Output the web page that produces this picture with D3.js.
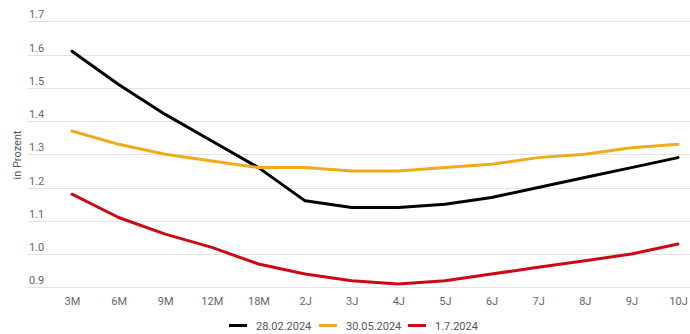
<!DOCTYPE html>
<html>
<head>
<meta charset="utf-8">
<script src="https://cdn.jsdelivr.net/npm/d3@7/dist/d3.min.js"></script>
<style>
  html, body { margin: 0; padding: 0; background: #fff; }
  svg { display: block; font-family: Roboto, "Noto Sans", sans-serif; }
</style>
</head>
<body>
<svg id="chart" width="690" height="334"></svg>
<script>
// Laufzeiten (Kategorien)
const categories = ["3M","6M","9M","12M","18M","2J","3J","4J","5J","6J","7J","8J","9J","10J"];
// Renditen in Prozent je Stichtag
const series1 = [1.61,1.51,1.42,1.34,1.26,1.16,1.14,1.14,1.15,1.17,1.20,1.23,1.26,1.29];
const series2 = [1.37,1.33,1.30,1.28,1.26,1.26,1.25,1.25,1.26,1.27,1.29,1.30,1.32,1.33];
const series3 = [1.18,1.11,1.06,1.02,0.97,0.94,0.92,0.91,0.92,0.94,0.96,0.98,1.00,1.03];
const seriesNames = ["28.02.2024","30.05.2024","1.7.2024"];
const yTicks = [0.9,1.0,1.1,1.2,1.3,1.4,1.5,1.6,1.7];

const colors = ["#000000","#f0ab1a","#cc0a16"];
const seriesData = [series1, series2, series3];

const svg = d3.select("#chart");
const left = 28, right = 690;

const x = d3.scalePoint().domain(categories).range([72, 678]);
const y = d3.scaleLinear().domain([0.9, 1.7]).range([287.3, 21.3]);

// Gitterlinien und Y-Beschriftung
const yAxis = svg.append("g").attr("class", "y-axis");
yTicks.forEach(t => {
  yAxis.append("line")
    .attr("x1", left).attr("x2", right)
    .attr("y1", Math.round(y(t)) + 0.5).attr("y2", Math.round(y(t)) + 0.5)
    .attr("stroke", "#e3e3e3").attr("stroke-width", 1);
  yAxis.append("text")
    .attr("x", left + 1).attr("y", y(t) - 3)
    .attr("fill", "#666").attr("font-size", 11)
    .text(t.toFixed(1));
});

svg.append("text")
  .attr("transform", "translate(21,155) rotate(-90)")
  .attr("text-anchor", "middle")
  .attr("fill", "#555").attr("font-size", 11)
  .text("in Prozent");

// X-Achse
const xAxis = svg.append("g")
  .attr("transform", "translate(0,287)")
  .call(d3.axisBottom(x).tickSize(0).tickPadding(10));
xAxis.select(".domain").remove();
xAxis.selectAll("text").attr("fill", "#666").attr("font-size", 11)
  .attr("font-family", "Roboto, 'Noto Sans', sans-serif");

// Linien
const line = d3.line()
  .x((d, i) => x(categories[i]))
  .y(d => y(d));

seriesData.forEach((s, k) => {
  svg.append("path")
    .datum(s)
    .attr("fill", "none")
    .attr("stroke", colors[k])
    .attr("stroke-width", 3)
    .attr("stroke-linejoin", "round")
    .attr("stroke-linecap", "round")
    .attr("d", line);
});

// Legende
const legendX = [229, 319, 408];
const legend = svg.append("g");
seriesNames.forEach((name, k) => {
  legend.append("line")
    .attr("x1", legendX[k]).attr("x2", legendX[k] + 18)
    .attr("y1", 325.5).attr("y2", 325.5)
    .attr("stroke", colors[k]).attr("stroke-width", 3);
  legend.append("text")
    .attr("x", legendX[k] + 27).attr("y", 330)
    .attr("fill", "#555").attr("font-size", 11)
    .text(name);
});
</script>
</body>
</html>
